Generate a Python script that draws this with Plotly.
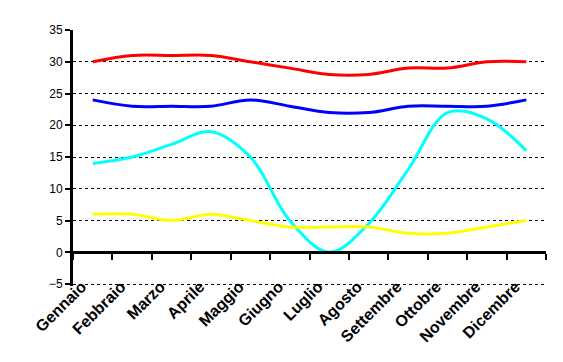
import plotly.graph_objects as go

months = ["Gennaio", "Febbraio", "Marzo", "Aprile", "Maggio", "Giugno",
          "Luglio", "Agosto", "Settembre", "Ottobre", "Novembre", "Dicembre"]
red_vals = [30, 31, 31, 31, 30, 29, 28, 28, 29, 29, 30, 30]
blue_vals = [24, 23, 23, 23, 24, 23, 22, 22, 23, 23, 23, 24]
cyan_vals = [14, 15, 17, 19, 15, 5, 0, 4.5, 13, 22, 21, 16]
yellow_vals = [6, 6, 5, 6, 5, 4, 4, 4, 3, 3, 4, 5]

series = [
    ("Serie1", red_vals, "#FF0000"),
    ("Serie2", blue_vals, "#0000FF"),
    ("Serie3", cyan_vals, "#00FFFF"),
    ("Serie4", yellow_vals, "#FFFF00"),
]

FONT = "Arial, Liberation Sans, sans-serif"
Y_MIN, Y_MAX = -5.3, 35

fig = go.Figure()
for name, vals, col in series:
    fig.add_trace(go.Scatter(
        x=months, y=vals, name=name, mode="lines",
        line=dict(color=col, width=3, shape="spline", smoothing=1),
        hoverinfo="skip", showlegend=False,
    ))

# invisible trace to carry the zero-crossing category axis
fig.add_trace(go.Scatter(
    x=months, y=yellow_vals, xaxis="x2", yaxis="y", mode="lines",
    line=dict(width=0), opacity=0, hoverinfo="skip", showlegend=False,
))

fig.update_layout(
    width=563, height=362,
    margin=dict(l=73, r=17, t=30, b=76, autoexpand=False),
    paper_bgcolor="white", plot_bgcolor="white",
    font=dict(family=FONT, color="black", size=12),
    showlegend=False,
    xaxis=dict(
        type="category", range=[-0.5, 11.5], automargin=False,
        showline=False, showgrid=False, zeroline=False, ticks="",
        tickangle=-45, tickfont=dict(family=FONT, size=16, color="black", weight="bold"),
        ticklabelshift=-11,
        anchor="free", position=0.05,
    ),
    xaxis2=dict(
        type="category", range=[-0.5, 11.5], overlaying="x", automargin=False,
        anchor="free", position=(0 - Y_MIN) / (Y_MAX - Y_MIN),
        showline=True, linecolor="black", linewidth=3,
        ticks="outside", tickson="boundaries", ticklen=6, tickwidth=2, tickcolor="black",
        showticklabels=False, showgrid=False, zeroline=False,
    ),
    yaxis=dict(
        range=[Y_MIN, Y_MAX], dtick=5, tick0=0, automargin=False,
        showline=True, linecolor="black", linewidth=3,
        ticks="outside", ticklen=5, tickwidth=2, tickcolor="black",
        showgrid=True, gridcolor="black", gridwidth=1, griddash="3px,3px",
        zeroline=False,
        tickfont=dict(family=FONT, size=12, color="black"),
    ),
)

fig.write_html("out.html", config={"displayModeBar": False},
               post_script="document.body.style.margin='0';")
